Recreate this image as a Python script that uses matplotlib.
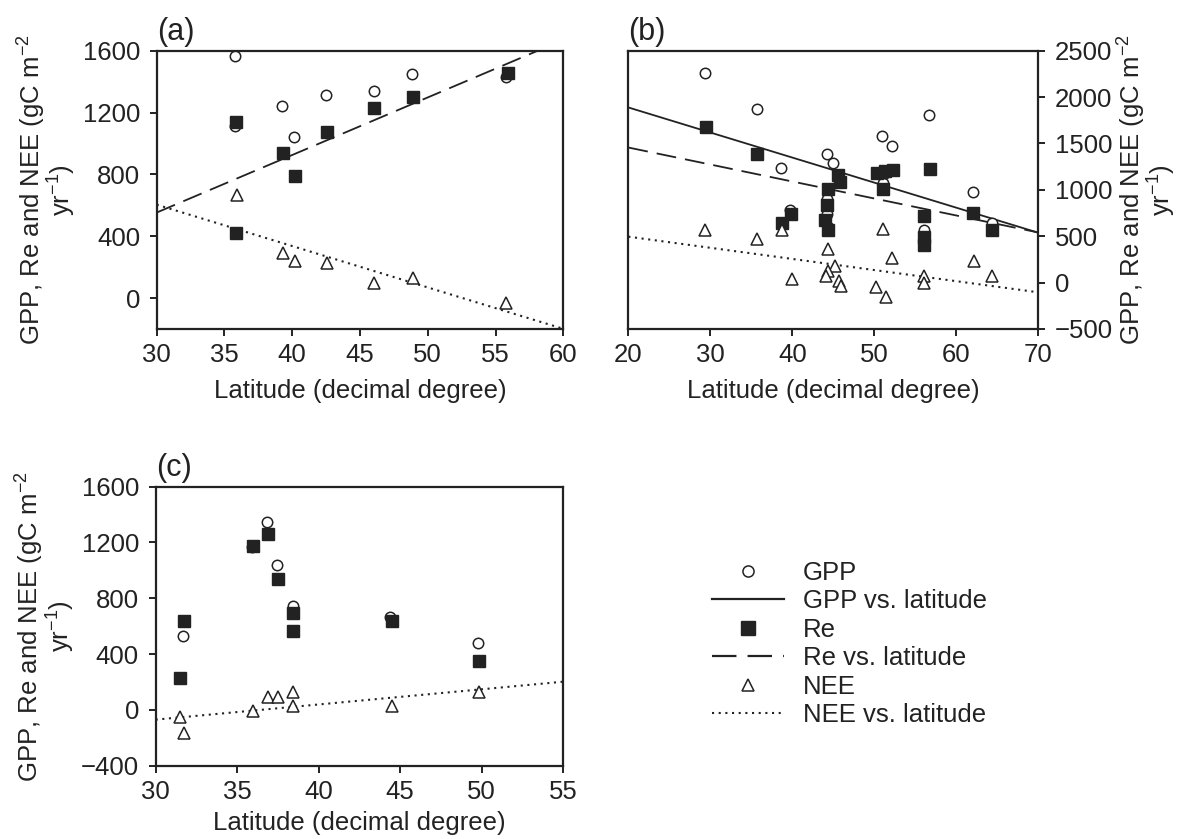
import matplotlib
matplotlib.use("Agg")
import matplotlib.pyplot as plt
from matplotlib.lines import Line2D

plt.rcParams['font.family'] = ['Liberation Sans', 'DejaVu Sans']
plt.rcParams['font.size'] = 18.5
plt.rcParams['mathtext.default'] = 'regular'
INK = '#222222'
FS = 18.5

# ---- panel (a) ----
lat_a_gpp = [35.8, 35.8, 39.25, 40.1, 42.5, 46.0, 48.8, 55.8]
gpp_a = [1565, 1115, 1240, 1040, 1313, 1337, 1447, 1427]
lat_a_re = [35.87, 35.87, 39.3, 40.2, 42.6, 46.0, 48.9, 55.9]
re_a = [1140, 420, 935, 791, 1075, 1229, 1302, 1453]
lat_a_nee = [35.9, 39.3, 40.2, 42.6, 46.0, 48.9, 55.8]
nee_a = [668, 294, 240, 225, 96, 132, -30]
fit_a_lat = [30, 60]
fit_a_re = [553, 1670]
fit_a_nee = [604, -199]

# ---- panel (b) ----
lat_b_gpp = [29.35, 35.66, 38.6, 39.7, 44.2, 45.0, 44.2, 44.2, 50.9, 52.1,
             51.1, 56.7, 56.0, 62.0, 64.4, 45.8, 44.4, 51.3]
gpp_b = [2256, 1867, 1236, 786, 1383, 1290, 905, 735, 1580, 1470,
         1075, 1805, 565, 980, 645, 1100, 600, 1180]
lat_b_re = [29.44, 35.7, 38.7, 39.85, 45.6, 45.8, 44.4, 44.2, 44.0, 44.4,
            50.3, 51.3, 52.3, 51.0, 56.8, 56.0, 56.0, 56.0, 62.0, 64.4]
re_b = [1679, 1391, 645, 735, 1157, 1084, 1013, 832, 670, 562,
        1182, 1203, 1211, 1013, 1222, 714, 490, 400, 749, 570]
lat_b_nee = [29.35, 35.7, 38.7, 39.9, 44.4, 45.2, 44.4, 44.1, 45.7, 45.9,
             50.2, 51.4, 51.0, 52.2, 56.0, 56.0, 62.1, 64.4]
nee_b = [570, 473, 570, 40, 365, 184, 130, 76, 22, -32,
         -43, -151, 581, 267, 76, -3, 238, 76]
fit_b_lat = [20, 70]
fit_b_gpp = [1888, 537]
fit_b_re = [1456, 540]
fit_b_nee = [495, -105]

# ---- panel (c) ----
lat_c_gpp = [31.7, 31.5, 35.9, 36.86, 37.47, 38.4, 44.4, 49.8]
gpp_c = [532, 230, 1170, 1349, 1037, 745, 668, 477]
lat_c_re = [31.75, 31.5, 35.95, 36.9, 37.5, 38.4, 38.4, 44.5, 49.85]
re_c = [640, 227, 1177, 1259, 941, 692, 563, 640, 350]
lat_c_nee = [31.5, 31.75, 35.95, 36.9, 37.5, 38.4, 38.4, 44.5, 49.85]
nee_c = [-53, -163, -8, 95, 95, 126, 28, 28, 126]
fit_c_lat = [30, 55]
fit_c_nee = [-70, 202]

gpp_style = dict(marker='o', ms=7.5, mfc='white', mec=INK, mew=1.1, ls='none')
re_style = dict(marker='s', ms=9, mfc=INK, mec=INK, mew=1.0, ls='none')
nee_style = dict(marker='^', ms=9, mfc='white', mec=INK, mew=1.1, ls='none')
dash = (0, (11, 5))
dot = (0, (1, 2.2))

ylab = 'GPP, Re and NEE (gC m$^{-2}$\nyr$^{-1}$)'

fig = plt.figure(figsize=(11.8, 8.39), dpi=100)
ax_a = fig.add_axes([0.1328, 0.6079, 0.3446, 0.3317])
ax_b = fig.add_axes([0.5325, 0.6079, 0.3475, 0.3317])
ax_c = fig.add_axes([0.1319, 0.0874, 0.3454, 0.3325])


def style_axes(ax):
    for s in ax.spines.values():
        s.set_linewidth(1.6)
        s.set_color(INK)
    ax.tick_params(direction='out', length=5, width=1.4, colors=INK,
                   labelcolor=INK, labelsize=FS)
    ax.tick_params(axis='y', pad=7)
    ax.tick_params(axis='x', pad=5)


# (a)
ax_a.plot(fit_a_lat, fit_a_re, color=INK, lw=1.3, ls=dash)
ax_a.plot(fit_a_lat, fit_a_nee, color=INK, lw=1.5, ls=dot)
ax_a.plot(lat_a_gpp, gpp_a, **gpp_style)
ax_a.plot(lat_a_re, re_a, **re_style)
ax_a.plot(lat_a_nee, nee_a, **nee_style)
ax_a.set_xlim(30, 60)
ax_a.set_ylim(-200, 1600)
ax_a.set_xticks([30, 35, 40, 45, 50, 55, 60])
ax_a.set_yticks([0, 400, 800, 1200, 1600])
ax_a.set_ylabel(ylab, color=INK, labelpad=3, linespacing=0.95)
ax_a.set_xlabel('Latitude (decimal degree)', color=INK, labelpad=9)
style_axes(ax_a)
ax_a.text(0.0, 1.012, '(a)', transform=ax_a.transAxes, fontsize=22,
          color=INK, va='bottom', ha='left')

# (b)
ax_b.plot(fit_b_lat, fit_b_gpp, color=INK, lw=1.3, ls='-')
ax_b.plot(fit_b_lat, fit_b_re, color=INK, lw=1.3, ls=dash)
ax_b.plot(fit_b_lat, fit_b_nee, color=INK, lw=1.5, ls=dot)
ax_b.plot(lat_b_gpp, gpp_b, **gpp_style)
ax_b.plot(lat_b_re, re_b, **re_style)
ax_b.plot(lat_b_nee, nee_b, **nee_style)
ax_b.set_xlim(20, 70)
ax_b.set_ylim(-500, 2500)
ax_b.set_xticks([20, 30, 40, 50, 60, 70])
ax_b.set_yticks([-500, 0, 500, 1000, 1500, 2000, 2500])
ax_b.set_yticklabels(['\u2212500', '0', '500', '1000', '1500', '2000', '2500'])
ax_b.yaxis.tick_right()
ax_b.yaxis.set_label_position('right')
ax_b.set_ylabel(ylab, color=INK, labelpad=2, linespacing=0.92, rotation=90)
ax_b.set_xlabel('Latitude (decimal degree)', color=INK, labelpad=9)
style_axes(ax_b)
ax_b.text(0.0, 1.012, '(b)', transform=ax_b.transAxes, fontsize=22,
          color=INK, va='bottom', ha='left')

# (c)
ax_c.plot(fit_c_lat, fit_c_nee, color=INK, lw=1.5, ls=dot)
ax_c.plot(lat_c_gpp, gpp_c, **gpp_style)
ax_c.plot(lat_c_re, re_c, **re_style)
ax_c.plot(lat_c_nee, nee_c, **nee_style)
ax_c.set_xlim(30, 55)
ax_c.set_ylim(-400, 1600)
ax_c.set_xticks([30, 35, 40, 45, 50, 55])
ax_c.set_yticks([-400, 0, 400, 800, 1200, 1600])
ax_c.set_yticklabels(['\u2212400', '0', '400', '800', '1200', '1600'])
ax_c.set_ylabel(ylab, color=INK, labelpad=3, linespacing=0.95)
ax_c.set_xlabel('Latitude (decimal degree)', color=INK, labelpad=5)
style_axes(ax_c)
ax_c.text(0.0, 1.012, '(c)', transform=ax_c.transAxes, fontsize=22,
          color=INK, va='bottom', ha='left')

# legend
handles = [
    Line2D([], [], **dict(gpp_style, ms=8)),
    Line2D([], [], color=INK, lw=1.6, ls='-'),
    Line2D([], [], **dict(re_style, ms=10)),
    Line2D([], [], color=INK, lw=1.6, ls=dash),
    Line2D([], [], **dict(nee_style, ms=8)),
    Line2D([], [], color=INK, lw=1.5, ls=dot),
]
labels = ['GPP', 'GPP vs. latitude', 'Re', 'Re vs. latitude', 'NEE',
          'NEE vs. latitude']
leg = fig.legend(handles, labels, loc='upper left',
                 bbox_to_anchor=(689 / 1180, 1 - 538 / 839),
                 frameon=False, handlelength=2.8, handletextpad=0.72,
                 labelspacing=0.17, fontsize=FS)
for t in leg.get_texts():
    t.set_color(INK)

fig.savefig('out.png', dpi=100)
